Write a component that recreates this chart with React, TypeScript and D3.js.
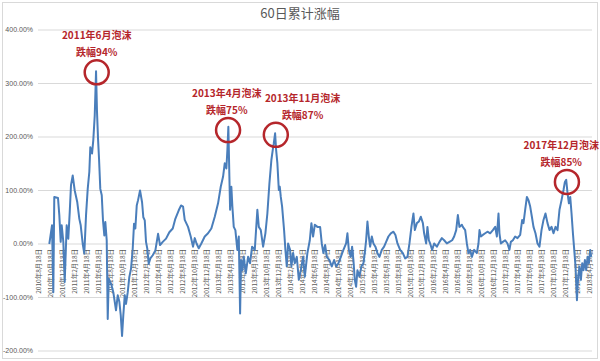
import React from "react";
import * as d3 from "d3";

// Chart title
const chartTitle = "60日累计涨幅";

// Y axis ticks (percent)
const yTicks = [400, 300, 200, 100, 0, -100, -200];

// X axis category labels (every two months starting 2010年8月)
const xTickLabels = [
  "2010年8月18日", "2010年10月18日", "2010年12月18日",
  "2011年2月18日", "2011年4月18日", "2011年6月18日", "2011年8月18日", "2011年10月18日", "2011年12月18日",
  "2012年2月18日", "2012年4月18日", "2012年6月18日", "2012年8月18日", "2012年10月18日", "2012年12月18日",
  "2013年2月18日", "2013年4月18日", "2013年6月18日", "2013年8月18日", "2013年10月18日", "2013年12月18日",
  "2014年2月18日", "2014年4月18日", "2014年6月18日", "2014年8月18日", "2014年10月18日", "2014年12月18日",
  "2015年2月18日", "2015年4月18日", "2015年6月18日", "2015年8月18日", "2015年10月18日", "2015年12月18日",
  "2016年2月18日", "2016年4月18日", "2016年6月18日", "2016年8月18日", "2016年10月18日", "2016年12月18日",
  "2017年2月18日", "2017年4月18日", "2017年6月18日", "2017年8月18日", "2017年10月18日", "2017年12月18日",
  "2018年2月18日", "2018年4月18日",
];
// months since 2010年8月18日 for each label
const xTickMonths = xTickLabels.map((_, i) => i * 2);

// Series: [months since 2010-08-18, 60-day cumulative rise %]
const cumulativeRise: [number, number][] = [
  [1.77, 0], [2.22, 35], [2.44, -90], [2.6, 88], [3.22, 86], [3.44, 54], [3.67, 4], [3.84, 35],
  [4.11, 4], [4.34, -71], [4.67, 35], [4.94, 10], [5.18, 60], [5.39, 110], [5.68, 128], [6.01, 100],
  [6.44, 78], [6.78, 47], [7.01, 35], [7.35, 0], [7.61, -18], [7.9, 54], [8.18, 103], [8.45, 135],
  [8.61, 181], [8.9, 169], [9.11, 194], [9.35, 240], [9.57, 323], [9.73, 247], [9.9, 197], [10.07, 159],
  [10.28, 103], [10.52, 91], [10.73, 44], [10.95, 16], [11.12, 41], [11.35, 7], [11.52, -140], [11.69, -65],
  [12.07, -74], [12.45, -90], [12.9, -124], [13.19, -96], [13.46, -108], [13.69, -133], [13.91, -172], [14.12, -133],
  [14.36, -96], [14.57, -112], [14.86, -90], [15.12, -62], [15.41, -46], [15.69, -9], [15.91, 38], [16.13, 29],
  [16.36, 72], [16.58, 82], [16.91, 100], [17.25, 78], [17.46, 50], [17.7, 44], [17.91, 4], [18.13, -9],
  [18.36, -37], [18.63, -27], [19.03, -21], [19.47, -12], [19.92, 19], [20.25, -2], [20.7, 4], [21.25, 10],
  [21.8, 22], [22.37, 29], [22.8, 47], [23.37, 63], [23.76, 72], [24.09, 70], [24.37, 45], [24.92, 32],
  [25.37, 14], [25.76, -5], [26.04, 11], [26.34, 1], [26.71, -8], [27.14, 1], [27.71, 14], [28.26, 20],
  [28.81, 29], [29.38, 51], [29.93, 76], [30.38, 107], [30.77, 126], [31.05, 151], [31.32, 141], [31.49, 176],
  [31.65, 219], [31.82, 126], [31.94, 64], [32.15, 107], [32.32, 70], [32.55, 32], [32.82, 26], [33.15, -11],
  [33.39, 14], [33.61, -130], [33.77, -30], [33.99, -49], [34.22, -24], [34.56, -55], [34.94, -24], [35.27, -36],
  [35.61, -5], [36.06, -11], [36.49, 64], [36.73, 32], [37.06, 26], [37.45, -5], [37.83, 20], [38.16, 57],
  [38.5, 113], [38.83, 157], [39.06, 176], [39.23, 188], [39.45, 207], [39.62, 176], [39.83, 151], [40.07, 101],
  [40.23, 107], [40.4, 88], [40.62, 70], [40.95, 26], [41.17, -11], [41.4, -42], [41.62, 1], [41.95, -11],
  [42.17, -42], [42.45, -17], [42.74, -36], [43.07, -24], [43.41, -67], [43.74, -49], [44.12, -24], [44.41, -61],
  [44.84, -17], [45.24, 7], [45.51, 39], [45.79, 14], [46.08, 36], [46.51, 32], [46.96, 32], [47.24, 1],
  [47.51, -17], [47.8, -2], [48.08, -24], [48.52, -30], [48.91, -42], [49.3, -30], [49.63, -42], [50.02, -36],
  [50.42, -24], [50.85, -11], [51.3, 1], [51.52, 20], [51.75, -11], [52.08, -24], [52.3, -5], [52.52, -30],
  [52.75, -67], [52.97, -80], [53.19, -49], [53.52, -61], [53.85, -42], [54.19, -36], [54.47, -11], [54.64, 7],
  [54.86, 42], [55.09, 14], [55.31, -5], [55.59, 14], [55.86, 1], [56.19, -5], [56.53, -17], [56.86, -24],
  [57.26, -11], [57.64, -5], [57.98, 4], [58.36, 14], [58.76, 20], [59.2, 23], [59.53, 17], [59.87, 1],
  [60.32, -11], [60.77, -17], [61.15, -27], [61.54, -24], [61.87, 1], [62.2, 32], [62.54, 57], [62.77, 26],
  [63.11, 39], [63.44, 42], [63.77, 51], [64.11, 39], [64.32, 20], [64.66, 1], [64.87, 32], [65.11, 7],
  [65.32, 1], [65.66, -11], [65.99, 1], [66.44, -5], [66.88, 4], [67.28, 11], [67.66, 7], [68.11, 1],
  [68.55, 4], [69.0, 7], [69.33, 14], [69.67, 26], [69.95, 54], [70.21, 32], [70.61, 36], [70.78, 32],
  [71.17, 26], [71.45, 1], [71.72, -17], [72.0, -11], [72.29, -24], [72.67, -11], [73.12, -17], [73.39, 1],
  [73.56, 26], [73.79, 14], [74.12, 17], [74.51, 20], [74.89, 23], [75.34, 20], [75.79, 26], [76.18, 32],
  [76.46, 14], [76.73, 57], [76.89, 20], [77.12, 1], [77.46, 4], [77.84, 7], [78.23, 1], [78.56, -11],
  [78.79, 4], [79.13, 7], [79.51, 14], [79.9, 11], [80.35, 17], [80.68, 45], [80.9, 39], [81.18, 64],
  [81.47, 88], [81.73, 82], [82.02, 70], [82.3, 51], [82.57, 32], [82.9, 20], [83.24, 1], [83.57, -5],
  [83.91, 26], [84.24, 45], [84.57, 57], [84.91, 39], [85.24, 26], [85.58, 32], [85.91, 20], [86.25, 32],
  [86.58, 26], [86.91, 64], [87.25, 82], [87.58, 101], [87.81, 116], [88.03, 120], [88.25, 95], [88.48, 76],
  [88.7, 88], [88.92, 57], [89.15, 20], [89.37, -11], [89.58, -42], [89.82, -105], [90.03, -61], [90.25, -42],
  [90.48, -67], [90.7, -36], [90.92, -49], [91.15, -30], [91.37, -49], [91.59, -24], [91.82, -36], [92.04, -11],
  [92.2, -24],
];

// Bubble annotations
const bubbleTitles = ["2011年6月泡沫", "2013年4月泡沫", "2013年11月泡沫", "2017年12月泡沫"];
const bubbleDrops = ["跌幅94%", "跌幅75%", "跌幅87%", "跌幅85%"];
const bubblePeakMonths = [9.68, 31.6, 39.57, 88.15];
const bubblePeakValues = [321, 213, 204, 116];
const bubbleLabelMonths = [9.68, 31.39, 44.04, 87.2];

export default function App() {
  const W = 600, H = 361;
  const x = d3.scaleLinear().domain([0, 92]).range([38.7, 590]);
  const y = d3.scaleLinear().domain([-200, 400]).range([351, 30]);
  const line = d3
    .line<[number, number]>()
    .x((d) => x(d[0]))
    .y((d) => y(d[1]));
  const fmt = (v: number) => v.toFixed(2) + "%";
  const cjk = "'Noto Sans CJK SC', 'Microsoft YaHei', sans-serif";
  const red = "#b5262b";

  return (
    <svg
      width={W}
      height={H}
      style={{ position: "absolute", left: 0, top: 0, background: "#fff" }}
      fontFamily={cjk}
    >
      <rect x={0} y={0} width={W} height={H} fill="#fff" />
      <rect x={2.5} y={2.5} width={595} height={356} fill="none" stroke="#d9d9d9" />
      <text x={300} y={18} textAnchor="middle" fontSize={13} fill="#595959">
        {chartTitle}
      </text>
      {yTicks.map((t) => (
        <g key={t}>
          <line x1={38} x2={592} y1={y(t)} y2={y(t)} stroke="#d9d9d9" strokeWidth={1} />
          <text
            x={33}
            y={y(t)}
            dy="0.35em"
            textAnchor="end"
            fontSize={7}
            fill="#595959"
            fontFamily="'Liberation Sans', Arial, sans-serif"
          >
            {fmt(t)}
          </text>
        </g>
      ))}
      {xTickLabels.map((lab, i) => (
        <text
          key={lab}
          transform={`translate(${x(xTickMonths[i])},${y(0) + 5}) rotate(-90)`}
          dy="0.35em"
          textAnchor="end"
          fontSize={6.5}
          fill="#595959"
        >
          {lab}
        </text>
      ))}
      <path
        d={line(cumulativeRise) || ""}
        fill="none"
        stroke="#4a7ebb"
        strokeWidth={2}
        strokeLinejoin="round"
      />
      {bubbleTitles.map((t, i) => {
        const cx = x(bubblePeakMonths[i]);
        const cy = y(bubblePeakValues[i]);
        const lx = x(bubbleLabelMonths[i]);
        return (
          <g key={t}>
            <circle cx={cx} cy={cy} r={12} fill="none" stroke={red} strokeWidth={2.5} />
            <text x={lx} y={cy - 33} textAnchor="middle" fontSize={10} fontWeight="bold" fill={red}>
              {t}
            </text>
            <text x={lx} y={cy - 16} textAnchor="middle" fontSize={10} fontWeight="bold" fill={red}>
              {bubbleDrops[i]}
            </text>
          </g>
        );
      })}
    </svg>
  );
}
